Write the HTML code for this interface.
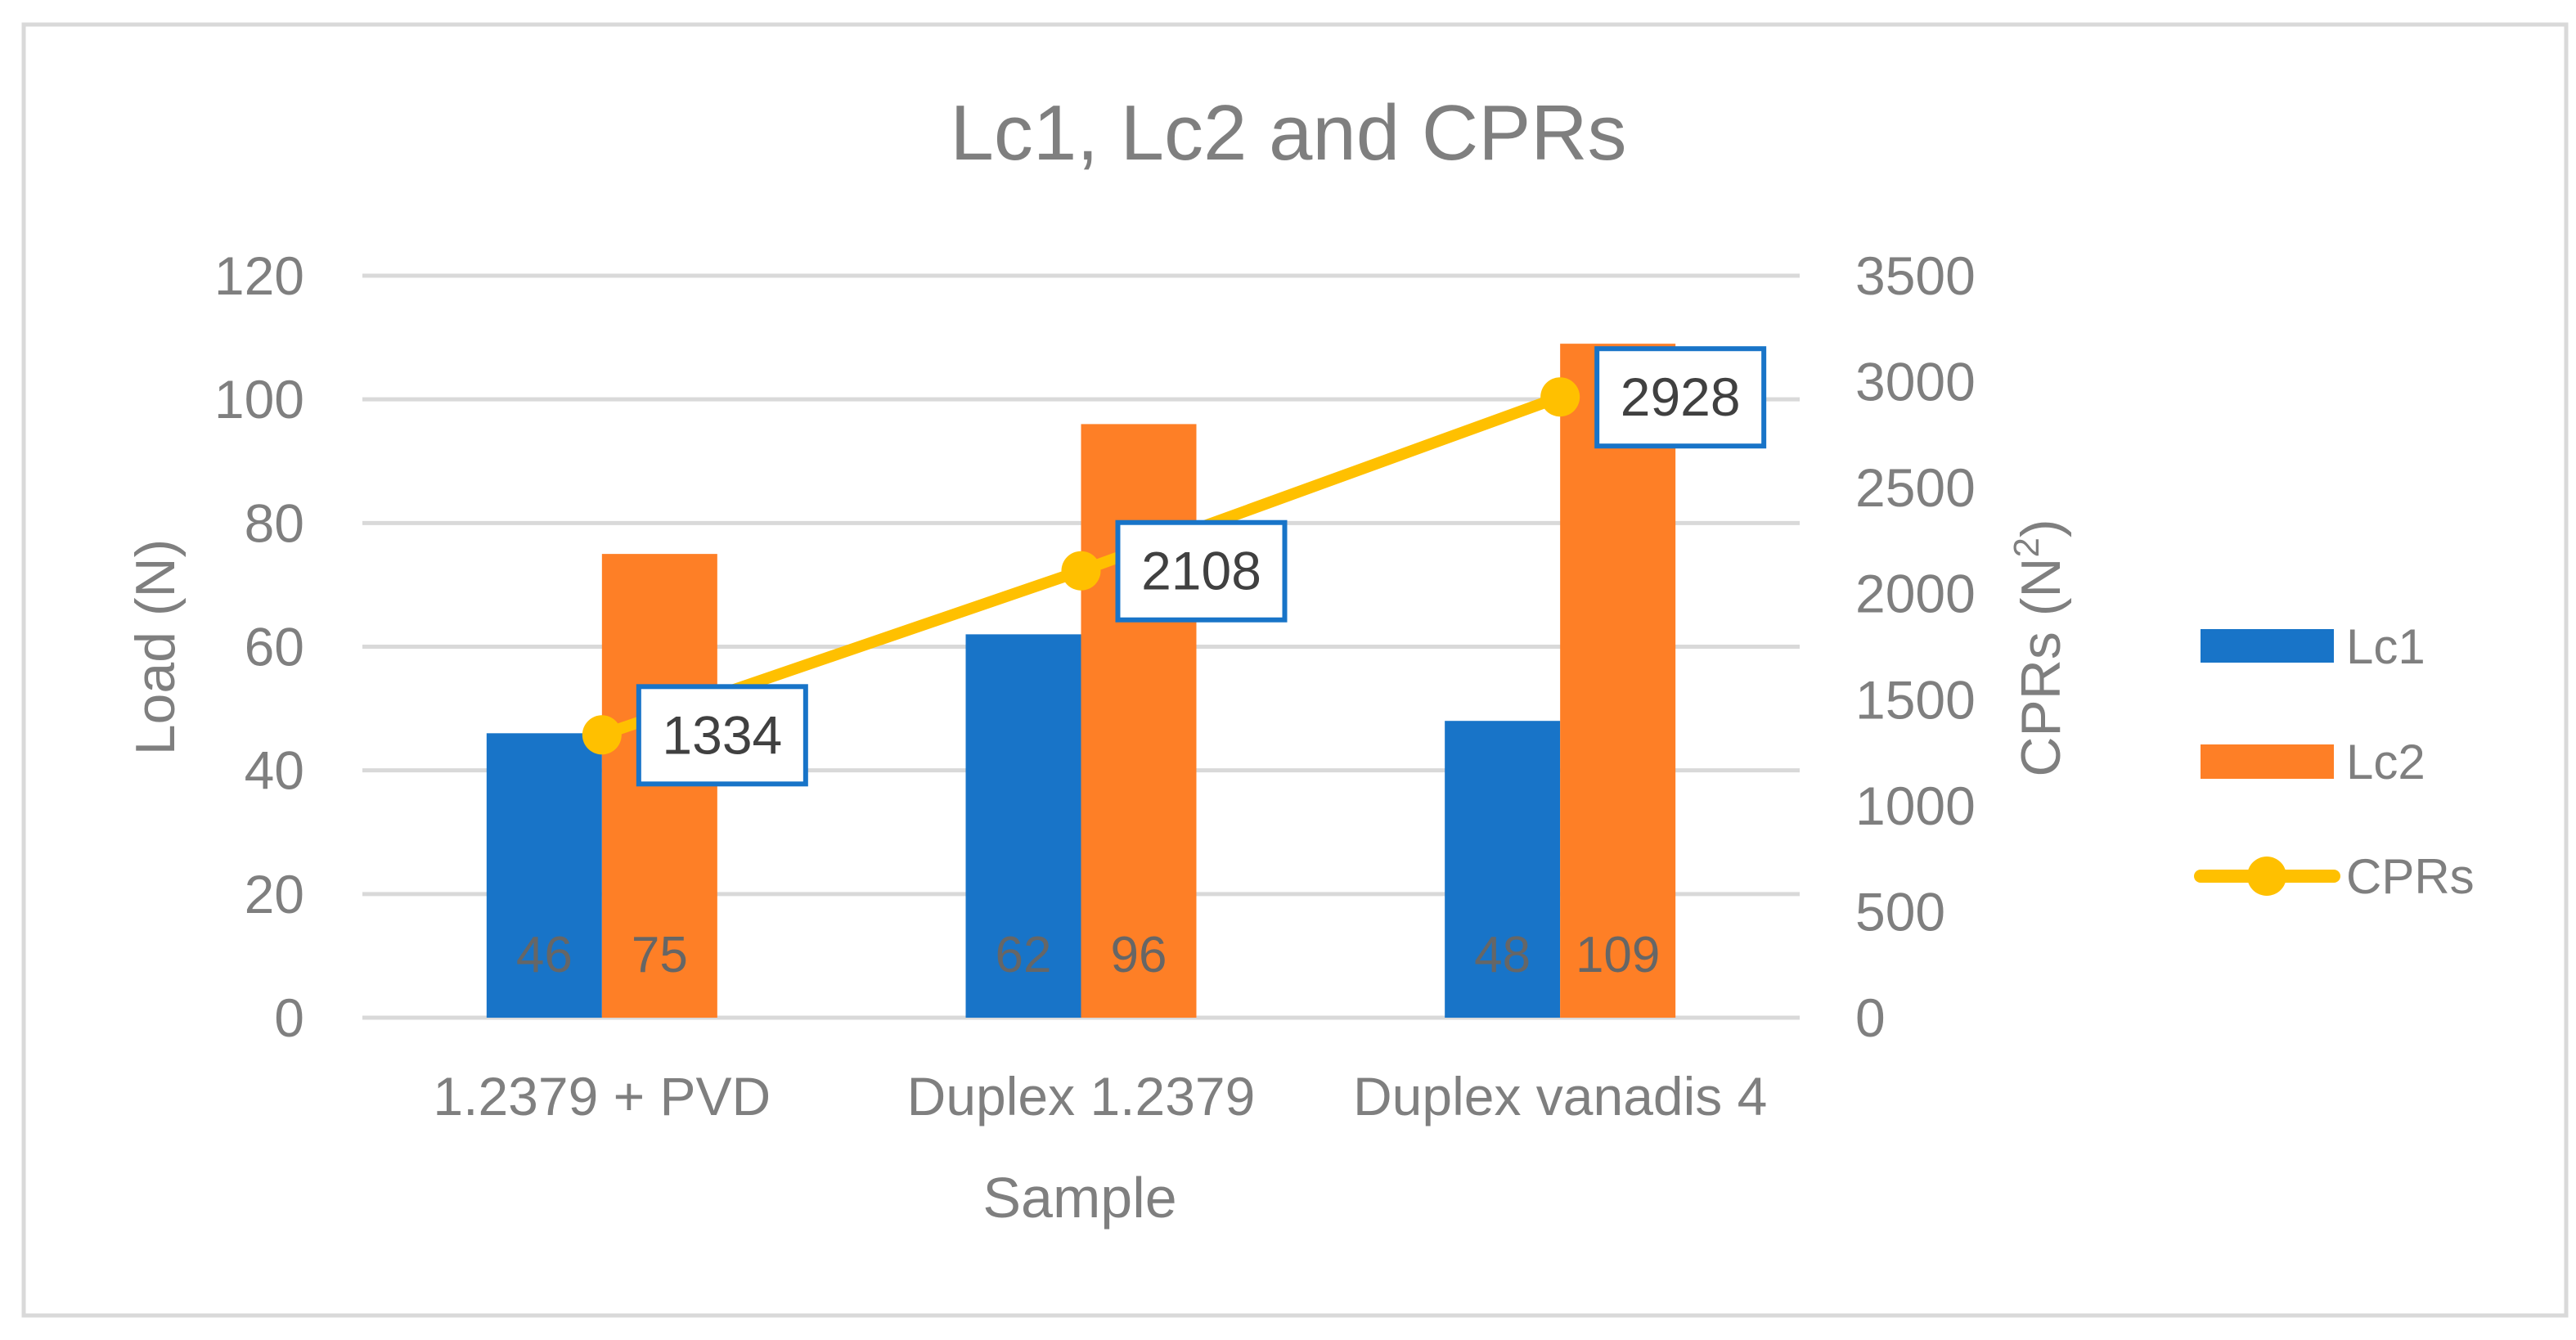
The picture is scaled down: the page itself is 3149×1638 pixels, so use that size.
<!DOCTYPE html>
<html><head><meta charset="utf-8"><style>
html,body{margin:0;padding:0;background:#fff;}
svg{display:block;font-family:"Liberation Sans",sans-serif;}
</style></head><body>
<svg id="chart" width="3149" height="1638" viewBox="0 0 3149 1638">
<rect x="29" y="30" width="3108" height="1578" fill="#fff" stroke="#D9D9D9" stroke-width="5"/>
<text x="1575" y="195" text-anchor="middle" font-size="96" fill="#7F7F7F">Lc1, Lc2 and CPRs</text>
<g id="grid"></g><g id="bars"></g><g id="line"></g><g id="labels"></g>
<text transform="translate(213,791) rotate(-90)" text-anchor="middle" font-size="68" fill="#7F7F7F">Load (N)</text>
<text transform="translate(2518,792) rotate(-90)" text-anchor="middle" font-size="68" fill="#7F7F7F">CPRs (N<tspan font-size="44" dy="-26">2</tspan><tspan dy="26">)</tspan></text>
<text x="1320" y="1488" text-anchor="middle" font-size="70" fill="#7F7F7F">Sample</text>
<g>
<rect x="2690" y="769" width="163" height="41" fill="#1874C8"/>
<text x="2868" y="811" font-size="60" fill="#7F7F7F">Lc1</text>
<rect x="2690" y="910" width="163" height="42" fill="#FE7F26"/>
<text x="2868" y="952" font-size="60" fill="#7F7F7F">Lc2</text>
<line x1="2690" y1="1071" x2="2853" y2="1071" stroke="#FFC000" stroke-width="16" stroke-linecap="round"/>
<circle cx="2771" cy="1071" r="24" fill="#FFC000"/>
<text x="2868" y="1092" font-size="60" fill="#7F7F7F">CPRs</text>
</g>
</svg>
<script>
const categories = ["1.2379 + PVD", "Duplex 1.2379", "Duplex vanadis 4"];
const lc1 = [46, 62, 48];
const lc2 = [75, 96, 109];
const cprs = [1334, 2108, 2928];
const leftTicks = [0, 20, 40, 60, 80, 100, 120];
const rightTicks = [0, 500, 1000, 1500, 2000, 2500, 3000, 3500];

const NS = "http://www.w3.org/2000/svg";
const X0 = 443, X1 = 2200, Y0 = 1244, YTOP = 337;
const yL = v => Y0 - (v / 120) * (Y0 - YTOP);
const yR = v => Y0 - (v / 3500) * (Y0 - YTOP);
const band = (X1 - X0) / categories.length;
const xc = i => X0 + band * (i + 0.5);
const BW = 141;
function mk(tag, attrs, parent, text) {
  const e = document.createElementNS(NS, tag);
  for (const k in attrs) e.setAttribute(k, attrs[k]);
  if (text !== undefined) e.textContent = text;
  parent.appendChild(e);
  return e;
}
const grid = document.getElementById('grid');
const bars = document.getElementById('bars');
const line = document.getElementById('line');
const labels = document.getElementById('labels');

leftTicks.forEach(t => {
  const l = mk('line', {x1: X0, x2: X1, y1: yL(t), y2: yL(t), stroke: '#D9D9D9', 'stroke-width': 5}, grid);
  
  
  const tx = mk('text', {x: 372, y: yL(t) + 23, 'text-anchor': 'end', 'font-size': 66, fill: '#7F7F7F'}, grid, String(t));
  
  
});
rightTicks.forEach(t => {
  const tx = mk('text', {x: 2268, y: yR(t) + 23, 'text-anchor': 'start', 'font-size': 66, fill: '#7F7F7F'}, grid, String(t));
  
  
});
categories.forEach((c, i) => {
  const cx = xc(i);
  const b1 = mk('rect', {x: cx - BW, y: yL(lc1[i]), width: BW, height: Y0 - yL(lc1[i]), fill: '#1874C8'}, bars);
  
  
  const b2 = mk('rect', {x: cx, y: yL(lc2[i]), width: BW, height: Y0 - yL(lc2[i]), fill: '#FE7F26'}, bars);
  
  
  const v1 = mk('text', {x: cx - BW / 2, y: 1188, 'text-anchor': 'middle', 'font-size': 62, fill: '#666'}, labels, String(lc1[i]));
  
  
  const v2 = mk('text', {x: cx + BW / 2, y: 1188, 'text-anchor': 'middle', 'font-size': 62, fill: '#666'}, labels, String(lc2[i]));
  
  
  const cl = mk('text', {x: cx, y: 1363, 'text-anchor': 'middle', 'font-size': 66, fill: '#7F7F7F'}, labels, c);
  
  
});
const pts = cprs.map((v, i) => xc(i) + ',' + yR(v)).join(' ');
const pl = mk('polyline', {points: pts, fill: 'none', stroke: '#FFC000', 'stroke-width': 14, 'stroke-linejoin': 'round'}, line);


cprs.forEach((v, i) => {
  const cx = xc(i), cy = yR(v);
  const m = mk('circle', {cx: cx, cy: cy, r: 24, fill: '#FFC000'}, line);
  
  
  const bx = mk('rect', {x: cx + 45, y: cy - 59, width: 204, height: 119, fill: '#fff', stroke: '#1874C8', 'stroke-width': 6}, labels);
  
  
  const t = mk('text', {x: cx + 147, y: cy + 23, 'text-anchor': 'middle', 'font-size': 66, fill: '#404040'}, labels, String(v));
  
  
});
</script>
</body></html>
